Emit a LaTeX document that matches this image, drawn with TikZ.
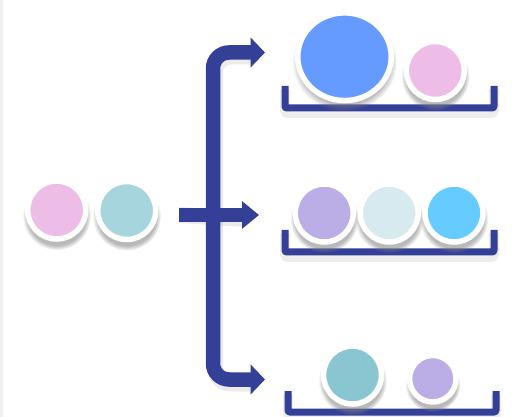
\documentclass[tikz,border=0pt]{standalone}
\usetikzlibrary{arrows.meta,shadows,shapes.geometric}
\definecolor{barblue}{RGB}{52,63,152}
\definecolor{cpink}{RGB}{237,189,232}
\definecolor{cteal}{RGB}{167,213,222}
\definecolor{cblue}{RGB}{101,155,255}
\definecolor{cpurple}{RGB}{187,173,230}
\definecolor{clight}{RGB}{214,234,240}
\definecolor{ccyan}{RGB}{102,203,255}
\definecolor{cteal2}{RGB}{138,198,209}
\begin{document}
\begin{tikzpicture}[x=1pt,y=-1pt,
  ball/.style={circle, draw=white, line width=5.5pt, inner sep=0pt,
    circular drop shadow={shadow xshift=0pt, shadow yshift=-5pt, shadow scale=1.18, opacity=0.55}},
  bigball/.style={ellipse, draw=white, line width=5.5pt, inner sep=0pt,
    circular drop shadow={shadow xshift=0pt, shadow yshift=-5pt, shadow scale=1.12, opacity=0.55}},
  bracketline/.style={draw=barblue, line width=7pt, rounded corners=2pt},
  bracketshadow/.style={draw=black, opacity=0.07, line width=10pt, rounded corners=3pt},
  flow/.style={draw=barblue, line width=14.5pt,
    {Triangle[length=14.3pt,width=29pt]}-{Triangle[length=14.3pt,width=29pt]}},
  midflow/.style={draw=barblue, line width=13.3pt, -{Triangle[length=17pt,width=26.7pt]}},
  flowshadow/.style={draw=black, opacity=0.08, line width=16pt}
]
\useasboundingbox (0,0) rectangle (512,417);
\fill[black!6] (0,0) rectangle (2.5,417);

% connector coordinates
\coordinate (ta) at (265,52.5);
\coordinate (ba) at (265,379.5);
\coordinate (corner) at (213,379.5);
\coordinate (ms) at (179,215);
\coordinate (ma) at (259,215);

% arrow shadows
\begin{scope}[shift={(2,4)}]
  \draw[flowshadow, rounded corners=16pt] (251,52.5) -| (213,379.5) -- (251,379.5);
  \draw[flowshadow] (ms) -- (243,215);
\end{scope}

% arrows
\draw[flow, rounded corners=16pt] (ta) -| (corner) -- (ba);
\draw[midflow] (ms) -- (ma);

% bracket shadows
\draw[bracketshadow] (285,89) -- (285,113) -- (494,113) -- (494,89);
\draw[bracketshadow] (285,233) -- (285,257) -- (494,257) -- (494,233);
\draw[bracketshadow] (288,394) -- (288,417) -- (496,417) -- (496,394);

% brackets
\draw[bracketline] (285,86) -- (285,108) -- (494,108) -- (494,86);
\draw[bracketline] (285,230) -- (285,252) -- (494,252) -- (494,230);
\draw[bracketline] (288,391) -- (288,412) -- (496,412) -- (496,391);

% left group
\node[ball, fill=cpink, minimum size=58pt] (l1) at (56.7,210) {};
\node[ball, fill=cteal, minimum size=58pt] (l2) at (126.7,210.5) {};

% top group
\node[bigball, fill=cblue, minimum width=93.5pt, minimum height=87.7pt] (t1) at (344.5,56.7) {};
\node[ball, fill=cpink, minimum size=58pt] (t2) at (435.3,70.5) {};

% middle group
\node[ball, fill=cpurple, minimum size=58pt] (m1) at (324.2,213) {};
\node[ball, fill=clight, minimum size=58pt] (m2) at (389.2,213) {};
\node[ball, fill=ccyan, minimum size=58pt] (m3) at (454,213) {};

% bottom group
\node[ball, fill=cteal2, minimum size=58pt] (b1) at (352.5,375) {};
\node[ball, fill=cpurple, minimum size=46.5pt] (b2) at (432.8,378.7) {};
\end{tikzpicture}
\end{document}
